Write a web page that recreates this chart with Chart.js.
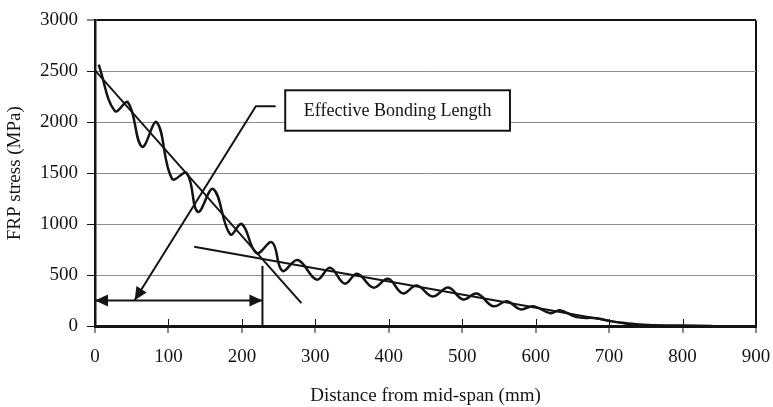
<!DOCTYPE html>
<html>
<head>
<meta charset="utf-8">
<script src="https://cdn.jsdelivr.net/npm/chart.js@4.4.1/dist/chart.umd.min.js"></script>
<style>
  html, body { margin: 0; padding: 0; background: #fff; }
  #wrap { width: 773px; height: 407px; }
</style>
</head>
<body>
<div id="wrap"><canvas id="chart"></canvas></div>
<script>
// FRP stress along the strip, peaks and troughs
const distance = [5, 27, 45, 64, 84, 105, 125, 140, 161, 184, 200, 220, 241, 255, 276,
  302, 320, 340, 357, 379, 399, 419, 438, 460, 481, 501, 520, 542, 561, 579, 597,
  620, 633, 656, 683, 701, 721, 753, 800, 841];
const stress = [2565, 2110, 2195, 1760, 2000, 1445, 1500, 1120, 1345, 900, 1000, 716, 822, 542, 648,
  455, 571, 416, 513, 377, 464, 320, 397, 290, 377, 261, 319, 194, 242, 164, 194,
  126, 155, 87, 77, 48, 29, 10, 5, 0];

// straight-line fits of the two zones
const fitSteepX = [0, 281];
const fitSteepY = [2510, 225];
const fitFlatX = [135, 740];
const fitFlatY = [777, 0];

// effective bonding length marker
const bondX = [0, 228];
const bondY = [250, 250];
const markerX = [228, 228];
const markerY = [0, 590];

// leader line from the label down to the arrow
const leaderX = [246, 219, 54];
const leaderY = [2157, 2157, 252];

// label box, in data units
const labelText = 'Effective Bonding Length';
const labelX = [259, 565];
const labelY = [1917, 2314];

const xRange = [0, 900, 100];
const yRange = [0, 3000, 500];

const INK = '#141414';
const SERIF = "'Liberation Serif', 'Times New Roman', serif";

function toPoints(xs, ys) {
  return xs.map((x, i) => ({ x: x, y: ys[i] }));
}

function lineSet(xs, ys, width, extra) {
  return Object.assign({
    data: toPoints(xs, ys),
    showLine: true,
    borderColor: INK,
    borderWidth: width,
    pointRadius: 0,
    tension: 0
  }, extra || {});
}

function drawHead(ctx, from, to) {
  const ang = Math.atan2(to.y - from.y, to.x - from.x);
  ctx.save();
  ctx.translate(to.x, to.y);
  ctx.rotate(ang);
  ctx.beginPath();
  ctx.moveTo(0, 0);
  ctx.lineTo(-13, -6);
  ctx.lineTo(-13, 6);
  ctx.closePath();
  ctx.fillStyle = INK;
  ctx.fill();
  ctx.restore();
}

// arrow heads, label box and the inner half of the x tick marks
const extras = {
  id: 'extras',
  afterDatasetsDraw(chart) {
    const ctx = chart.ctx;
    const xs = chart.scales.x, ys = chart.scales.y;

    chart.data.datasets.forEach((ds, i) => {
      if (!ds.arrows) return;
      const pts = chart.getDatasetMeta(i).data;
      const n = pts.length;
      if (ds.arrows === 'both') drawHead(ctx, pts[1], pts[0]);
      drawHead(ctx, pts[n - 2], pts[n - 1]);
    });

    const l = xs.getPixelForValue(labelX[0]);
    const r = xs.getPixelForValue(labelX[1]);
    const t = ys.getPixelForValue(labelY[1]);
    const b = ys.getPixelForValue(labelY[0]);
    ctx.save();
    ctx.fillStyle = '#fff';
    ctx.fillRect(l, t, r - l, b - t);
    ctx.strokeStyle = INK;
    ctx.lineWidth = 2;
    ctx.strokeRect(l, t, r - l, b - t);
    ctx.fillStyle = INK;
    ctx.font = '18px ' + SERIF;
    ctx.textAlign = 'center';
    ctx.textBaseline = 'middle';
    ctx.fillText(labelText, (l + r) / 2, (t + b) / 2 + 1);

    ctx.lineWidth = 1;
    const bottom = chart.chartArea.bottom;
    xs.ticks.forEach(tk => {
      const px = Math.round(xs.getPixelForValue(tk.value)) + 0.5;
      ctx.beginPath();
      ctx.moveTo(px, bottom - 7);
      ctx.lineTo(px, bottom);
      ctx.stroke();
    });
    ctx.restore();
  }
};

new Chart(document.getElementById('chart'), {
  type: 'scatter',
  data: {
    datasets: [
      lineSet(distance, stress, 2.5, { tension: 0.4 }),
      lineSet(fitSteepX, fitSteepY, 2),
      lineSet(fitFlatX, fitFlatY, 2),
      lineSet(markerX, markerY, 2),
      lineSet(bondX, bondY, 2, { arrows: 'both' }),
      lineSet(leaderX, leaderY, 2, { arrows: 'end' })
    ]
  },
  options: {
    responsive: true,
    maintainAspectRatio: false,
    animation: false,
    layout: { padding: { left: 0, top: 16, right: 17, bottom: 0 } },
    plugins: {
      legend: { display: false },
      tooltip: { enabled: false }
    },
    scales: {
      x: {
        type: 'linear',
        min: xRange[0],
        max: xRange[1],
        afterFit: s => {
          s.height = 81;
          s.paddingLeft = 0;
          s.paddingRight = 0;
        },
        border: { color: INK, width: 3 },
        grid: {
          color: c => (c.tick && c.tick.value === xRange[1]) ? INK : 'rgba(0,0,0,0)',
          lineWidth: 2,
          tickColor: INK,
          tickWidth: 1,
          tickLength: 7
        },
        ticks: {
          stepSize: xRange[2],
          padding: 13,
          color: INK,
          font: { family: SERIF, size: 19 },
          callback: v => String(v)
        },
        title: {
          display: true,
          text: 'Distance from mid-span (mm)',
          color: INK,
          font: { family: SERIF, size: 19, lineHeight: 1.2 },
          padding: { top: 0, bottom: 0 }
        }
      },
      y: {
        min: yRange[0],
        max: yRange[1],
        afterFit: s => { s.width = 95; },
        border: { color: INK, width: 2.5 },
        grid: {
          color: c => (c.tick && c.tick.value === yRange[1]) ? INK : '#8c8c8c',
          lineWidth: c => (c.tick && c.tick.value === yRange[1]) ? 2 : 1,
          tickColor: INK,
          tickWidth: 1,
          tickLength: 8
        },
        ticks: {
          stepSize: yRange[2],
          padding: 9,
          color: INK,
          font: { family: SERIF, size: 19 },
          callback: v => String(v)
        },
        title: {
          display: true,
          text: 'FRP stress (MPa)',
          color: INK,
          font: { family: SERIF, size: 19, lineHeight: 1.2 },
          padding: { top: 4, bottom: 0 }
        }
      }
    }
  },
  plugins: [extras]
});
</script>
</body>
</html>
